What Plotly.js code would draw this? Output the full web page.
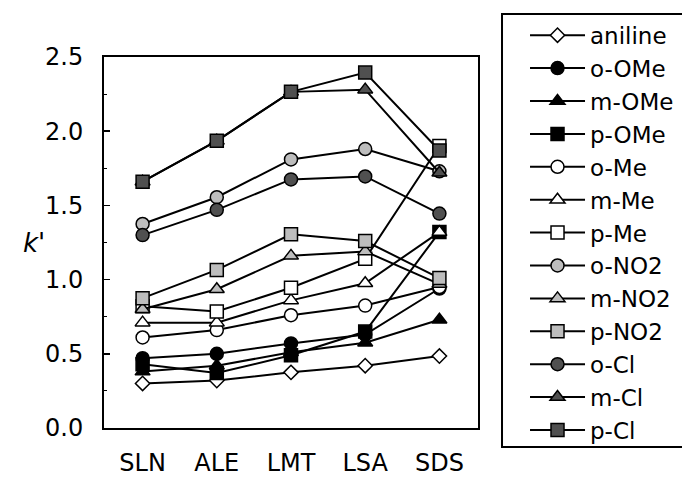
<!DOCTYPE html>
<html><head><meta charset="utf-8">
<script src="https://cdn.plot.ly/plotly-3.0.1.min.js"></script>
<style>html,body{margin:0;padding:0;background:#fff}#chart{width:682px;height:477px}</style>
</head><body><div id="chart"></div>
<script>
const categories = ["SLN", "ALE", "LMT", "LSA", "SDS"];
const names = ["aniline","o-OMe","m-OMe","p-OMe","o-Me","m-Me","p-Me","o-NO2","m-NO2","p-NO2","o-Cl","m-Cl","p-Cl"];
const aniline = [0.30, 0.32, 0.375, 0.42, 0.485];
const oOMe   = [0.47, 0.50, 0.57, 0.63, 0.94];
const mOMe   = [0.38, 0.42, 0.51, 0.575, 0.73];
const pOMe   = [0.43, 0.37, 0.49, 0.65, 1.32];
const oMe    = [0.61, 0.66, 0.76, 0.825, 0.95];
const mMe    = [0.71, 0.71, 0.86, 0.975, 1.32];
const pMe    = [0.82, 0.785, 0.945, 1.14, 1.90];
const oNO2   = [1.375, 1.555, 1.81, 1.88, 1.73];
const mNO2   = [0.80, 0.935, 1.16, 1.19, 0.97];
const pNO2   = [0.875, 1.065, 1.305, 1.26, 1.01];
const oCl    = [1.30, 1.47, 1.675, 1.695, 1.445];
const mCl    = [1.66, 1.935, 2.265, 2.28, 1.72];
const pCl    = [1.66, 1.935, 2.265, 2.395, 1.87];
const series = [aniline,oOMe,mOMe,pOMe,oMe,mMe,pMe,oNO2,mNO2,pNO2,oCl,mCl,pCl];
const symbols = ["diamond","circle","triangle-up","square","circle","triangle-up","square","circle","triangle-up","square","circle","triangle-up","square"];
const fills = ["#ffffff","#000000","#000000","#000000","#ffffff","#ffffff","#ffffff","#bdbdbd","#bdbdbd","#bdbdbd","#505050","#505050","#505050"];
const sizes = [11,13,13,13,13,13,13,13,13,13,13,13,13];

const traces = series.map((v,i)=>({
  x: categories, y: v, name: names[i], type: "scatter", mode: "lines+markers",
  line: {color: "#000", width: 2},
  marker: {symbol: symbols[i], size: sizes[i], color: fills[i], line: {color: "#000", width: 1.5}}
}));

const F = "DejaVu Sans, Arial, sans-serif";
const layout = {
  width: 682, height: 477,
  margin: {l: 104, r: 204, t: 57, b: 49, autoexpand: false},
  paper_bgcolor: "#fff", plot_bgcolor: "#fff",
  font: {family: F, size: 24, color: "#000"},
  showlegend: true,
  xaxis: {
    type: "category", range: [-0.52, 4.52],
    showline: true, mirror: true, linecolor: "#000", linewidth: 2,
    showgrid: false, zeroline: false, ticks: "",
    tickfont: {family: F, size: 24, color: "#000"},
    ticklabelstandoff: 12
  },
  yaxis: {
    range: [0, 2.5], tickvals: [0,0.5,1,1.5,2,2.5], ticktext: ["0.0","0.5","1.0","1.5","2.0","2.5"],
    showline: true, mirror: true, linecolor: "#000", linewidth: 2,
    showgrid: false, zeroline: false, ticks: "inside", ticklen: 6, tickwidth: 1.5, tickcolor: "#000",
    minor: {tickvals: [0.25,0.75,1.25,1.75,2.25], ticks: "inside", ticklen: 3, tickcolor: "#000", tickwidth: 1},
    tickfont: {family: F, size: 24, color: "#000"},
    ticklabelstandoff: 14
  },
  legend: {
    x: 1.1257, y: 1.1166, xanchor: "left", yanchor: "top",
    borderwidth: 0, bgcolor: "rgba(0,0,0,0)",
    font: {family: F, size: 23, color: "#000"},
    maxheight: 470, entrywidth: 88, entrywidthmode: "pixels",
    itemwidth: 55,
    tracegroupgap: 0
  },
  shapes: [{
    type: "rect", xref: "paper", yref: "paper",
    x0: 1.0642, x1: 1.60, y0: -0.0512, y1: 1.1159,
    line: {color: "#000", width: 2}, fillcolor: "rgba(0,0,0,0)", layer: "below"
  }],
  annotations: [{
    text: "<i>k'</i>", xref: "paper", yref: "paper", x: -0.222, y: 0.5,
    showarrow: false, font: {family: F, size: 26, color: "#000"}
  }]
};
Plotly.newPlot("chart", traces, layout, {displayModeBar: false, staticPlot: true});
</script></body></html>
